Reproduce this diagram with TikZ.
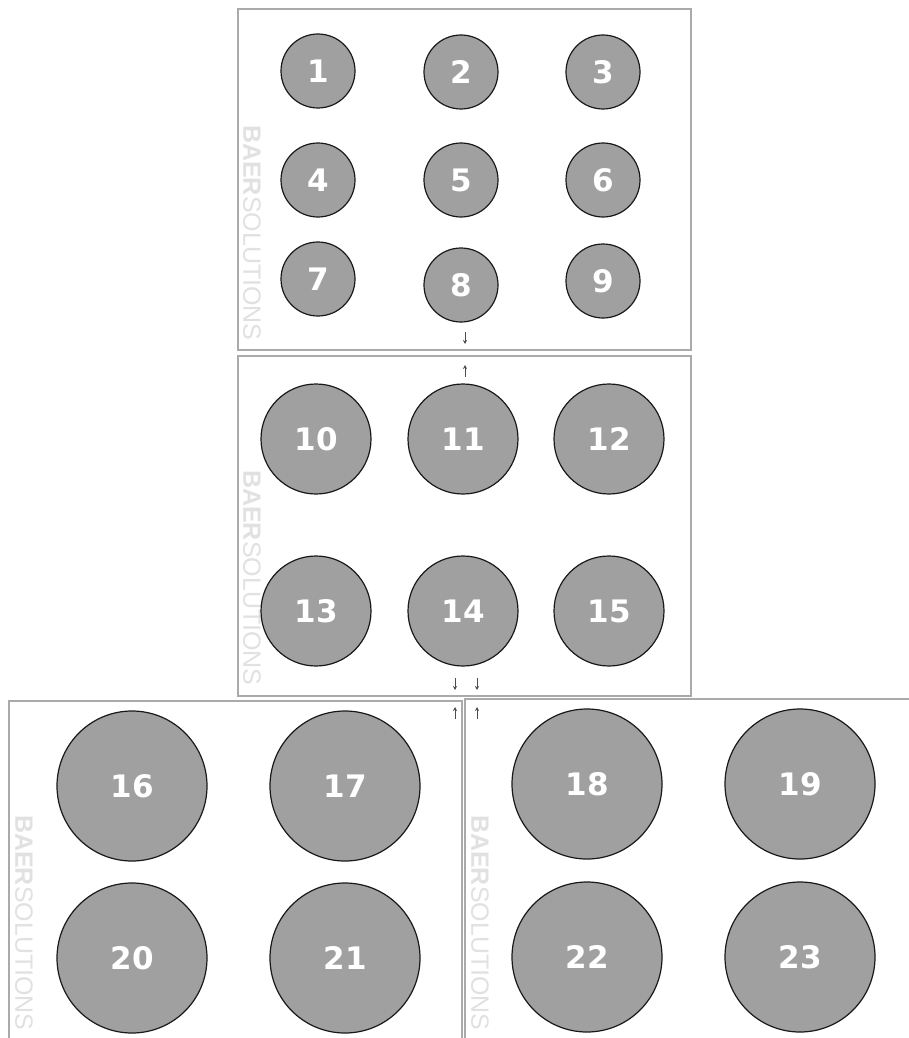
\documentclass[tikz,border=0pt]{standalone}
\usepackage{fontspec}
\setmainfont{DejaVu Sans}
\newfontfamily\markfont{Liberation Sans}
\usepackage{xcolor}
\usetikzlibrary{arrows.meta}
\definecolor{discgray}{RGB}{160,160,160}
\definecolor{framegray}{RGB}{170,170,170}
\definecolor{markgray}{RGB}{225,225,225}

\begin{document}
\begin{tikzpicture}[
  x=1pt, y=-1pt,
  >={Stealth[length=4pt,width=4pt]},
  panel/.style={draw=framegray, line width=2pt, anchor=north west, inner sep=0pt},
  disc/.style={circle, draw=black!90, line width=1.2pt, fill=discgray, text=white, font=\bfseries\fontsize{31}{31}\selectfont, inner sep=0pt},
  small/.style={disc, minimum size=74pt},
  mid/.style={disc, minimum size=110pt},
  big/.style={disc, minimum size=150pt},
  wmark/.style={text=markgray, font=\markfont\fontsize{25}{25}\selectfont, rotate=-90, anchor=south west, inner sep=0pt},
  tick/.style={->, draw=black!70, line width=1pt},
]
\clip (0,0) rectangle (909,1038);
\fill[white] (0,0) rectangle (909,1038);
% frames
\node[panel, minimum width=453pt, minimum height=341pt] (p1) at (237,8) {};
\node[panel, minimum width=453pt, minimum height=340pt] (p2) at (237,355) {};
\node[panel, minimum width=453pt, minimum height=350pt] (p3) at (8,700) {};
\node[panel, minimum width=450pt, minimum height=352pt] (p4) at (464,698) {};
% watermarks
\node[wmark] (w1) at (243,125) {\textbf{BAER}SOLUTIONS};
\node[wmark] (w2) at (243,470) {\textbf{BAER}SOLUTIONS};
\node[wmark] (w3) at (15,815) {\textbf{BAER}SOLUTIONS};
\node[wmark] (w4) at (471,815) {\textbf{BAER}SOLUTIONS};
% first panel
\node[small] (n1) at (318,71) {1};
\node[small] (n2) at (461,72) {2};
\node[small] (n3) at (603,72) {3};
\node[small] (n4) at (318,180) {4};
\node[small] (n5) at (461,180) {5};
\node[small] (n6) at (603,180) {6};
\node[small] (n7) at (318,279) {7};
\node[small] (n8) at (461,285) {8};
\node[small] (n9) at (603,281) {9};
% second panel
\node[mid] (n10) at (316,439) {10};
\node[mid] (n11) at (463,439) {11};
\node[mid] (n12) at (609,439) {12};
\node[mid] (n13) at (316,611) {13};
\node[mid] (n14) at (463,611) {14};
\node[mid] (n15) at (609,611) {15};
% third panel
\node[big] (n16) at (132,786) {16};
\node[big] (n17) at (345,786) {17};
\node[big] (n20) at (132,958) {20};
\node[big] (n21) at (345,958) {21};
% fourth panel
\node[big] (n18) at (587,784) {18};
\node[big] (n19) at (800,784) {19};
\node[big] (n22) at (587,957) {22};
\node[big] (n23) at (800,957) {23};
% small link marks
\coordinate (a1) at (465,332);
\coordinate (a2) at (465,344);
\coordinate (b1) at (465,377);
\coordinate (b2) at (465,365);
\coordinate (c1) at (455,678);
\coordinate (c2) at (455,690);
\coordinate (d1) at (477,678);
\coordinate (d2) at (477,690);
\coordinate (e1) at (455,719);
\coordinate (e2) at (455,707);
\coordinate (f1) at (477,719);
\coordinate (f2) at (477,707);
\draw[tick] (a1) -- (a2);
\draw[tick] (b1) -- (b2);
\draw[tick] (c1) -- (c2);
\draw[tick] (d1) -- (d2);
\draw[tick] (e1) -- (e2);
\draw[tick] (f1) -- (f2);
\end{tikzpicture}
\end{document}
